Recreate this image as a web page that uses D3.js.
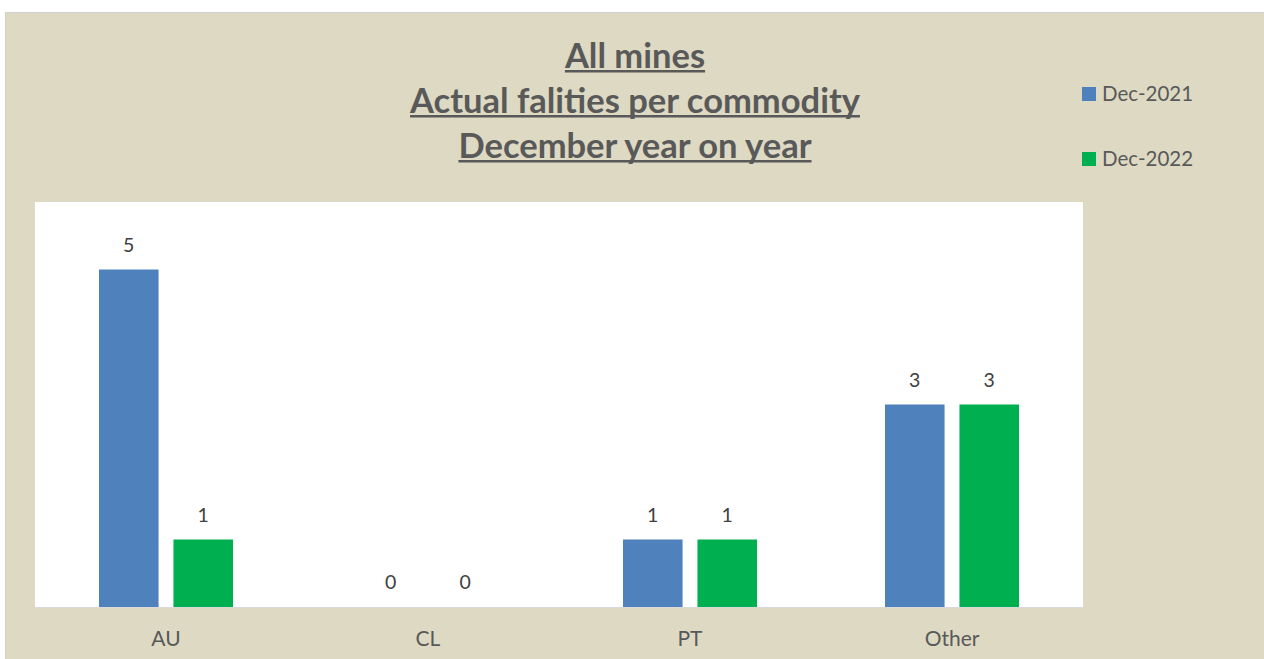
<!DOCTYPE html>
<html>
<head>
<meta charset="utf-8">
<script src="https://cdn.jsdelivr.net/npm/d3@7"></script>
<style>
  body { margin: 0; background: #fff; }
  svg { display: block; }
</style>
</head>
<body>
<div id="chart"></div>
<script>
const categories = ['AU', 'CL', 'PT', 'Other'];
const seriesNames = ['Dec-2021', 'Dec-2022'];
const dec2021 = [5, 0, 1, 3];
const dec2022 = [1, 0, 1, 3];
const titleLines = ['All mines', 'Actual falities per commodity', 'December year on year'];

const width = 1264, height = 659;
const colors = ['#4f81bd', '#00b050'];
const font = 'Lato, "Open Sans", sans-serif';

const svg = d3.select('#chart').append('svg')
  .attr('width', width).attr('height', height);

// chart area background
svg.append('rect')
  .attr('x', 5.5).attr('y', 12.5)
  .attr('width', width).attr('height', height)
  .attr('fill', '#ddd9c3')
  .attr('stroke', '#d0d0d0');

const plot = { left: 35, right: 1083, top: 202, bottom: 607 };

svg.append('rect')
  .attr('x', plot.left).attr('y', plot.top)
  .attr('width', plot.right - plot.left).attr('height', plot.bottom - plot.top)
  .attr('fill', '#fff');

const x0 = d3.scaleBand().domain(categories).range([plot.left, plot.right]).paddingInner(0).paddingOuter(0);
const x1 = d3.scaleBand().domain(seriesNames).range([64, x0.bandwidth() - 64]).paddingInner(0.2);
const y = d3.scaleLinear().domain([0, 6]).range([plot.bottom, plot.top]);

const rows = categories.map((c, i) => ({ cat: c, vals: [dec2021[i], dec2022[i]] }));

const groups = svg.append('g').selectAll('g')
  .data(rows).join('g')
  .attr('transform', d => `translate(${x0(d.cat)},0)`);

groups.selectAll('rect')
  .data(d => d.vals.map((v, k) => ({ name: seriesNames[k], v, k })))
  .join('rect')
  .attr('x', d => x1(d.name))
  .attr('y', d => y(d.v))
  .attr('width', x1.bandwidth())
  .attr('height', d => y(0) - y(d.v))
  .attr('fill', d => colors[d.k]);

groups.selectAll('text')
  .data(d => d.vals.map((v, k) => ({ name: seriesNames[k], v, k })))
  .join('text')
  .attr('x', d => x1(d.name) + x1.bandwidth() / 2)
  .attr('y', d => y(d.v) - 18)
  .attr('text-anchor', 'middle')
  .attr('font-family', font)
  .attr('font-size', 19.5)
  .attr('fill', '#404040')
  .text(d => d.v);

// baseline
svg.append('line')
  .attr('x1', plot.left).attr('x2', plot.right)
  .attr('y1', plot.bottom + 0.5).attr('y2', plot.bottom + 0.5)
  .attr('stroke', '#d9d9d9');

// category axis
const xAxis = svg.append('g')
  .attr('transform', `translate(0,${plot.bottom})`)
  .call(d3.axisBottom(x0).tickSize(0).tickPadding(24));
xAxis.select('.domain').remove();
xAxis.selectAll('text')
  .attr('font-family', font)
  .attr('font-size', 21)
  .attr('fill', '#595959');

// title
const title = svg.append('g');
titleLines.forEach((t, i) => {
  const ty = 68 + i * 45;
  const txt = title.append('text')
    .attr('x', 635).attr('y', ty)
    .attr('text-anchor', 'middle')
    .attr('font-family', font)
    .attr('font-weight', 'bold')
    .attr('font-size', 34.5)
    .attr('fill', '#595959')
    .text(t);
  const w = txt.node().getComputedTextLength();
  title.append('rect')
    .attr('x', 635 - w / 2).attr('y', ty + 2)
    .attr('width', w).attr('height', 2.5)
    .attr('fill', '#595959');
});

// legend
const legend = svg.append('g').selectAll('g')
  .data(seriesNames).join('g')
  .attr('transform', (d, i) => `translate(1082,${87 + i * 65})`);
legend.append('rect')
  .attr('width', 14).attr('height', 14)
  .attr('fill', (d, i) => colors[i]);
legend.append('text')
  .attr('x', 20).attr('y', 14)
  .attr('font-family', font)
  .attr('font-size', 20.5)
  .attr('fill', '#595959')
  .text(d => d);
</script>
</body>
</html>
